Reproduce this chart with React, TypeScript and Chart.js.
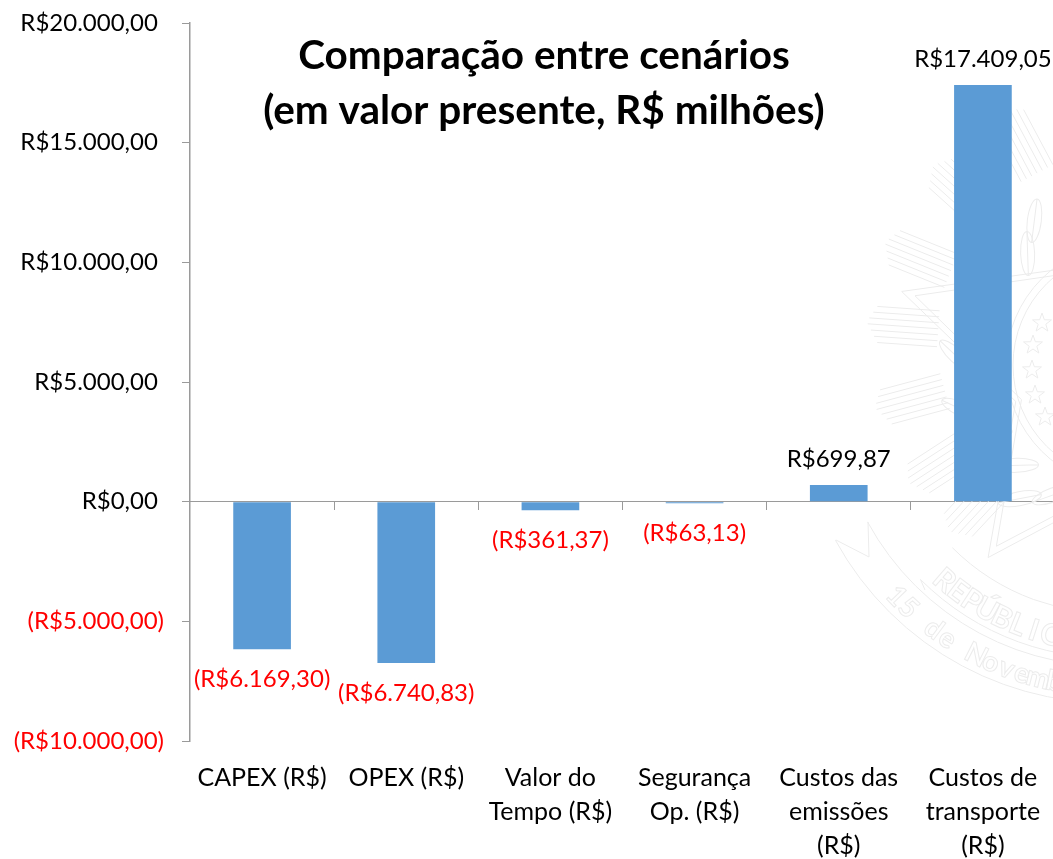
import React, { useEffect, useRef } from "react";
import { Chart, registerables } from "chart.js";

Chart.register(...registerables);

const categories: string[][] = [
  ["CAPEX (R$)"],
  ["OPEX (R$)"],
  ["Valor do", "Tempo (R$)"],
  ["Segurança", "Op. (R$)"],
  ["Custos das", "emissões", "(R$)"],
  ["Custos de", "transporte", "(R$)"],
];
const scenarioValues = [-6169.3, -6740.83, -361.37, -63.13, 699.87, 17409.05];
const titleLines = ["Comparação entre cenários", "(em valor presente, R$ milhões)"];

const FONT = "Lato, 'Noto Sans', sans-serif";
const LABEL_SIZE = 24;
const AXIS_GRAY = "#9a9a9a";
const RED = "#ff0000";
const WATERMARK = "#ececec";

const brl = (v: number) => {
  const abs = Math.abs(v).toLocaleString("pt-BR", { minimumFractionDigits: 2, maximumFractionDigits: 2 });
  return v < 0 ? `(R$${abs})` : `R$${abs}`;
};

const rad = (d: number) => (d * Math.PI) / 180;

function arcText(ctx: CanvasRenderingContext2D, text: string, cx: number, cy: number, r: number, startDeg: number, stepDeg: number) {
  [...text].forEach((ch, i) => {
    const a = rad(startDeg - i * stepDeg);
    ctx.save();
    ctx.translate(cx + r * Math.cos(a), cy + r * Math.sin(a));
    ctx.rotate(a - Math.PI / 2);
    ctx.strokeText(ch, 0, 0);
    ctx.restore();
  });
}

function starPath(ctx: CanvasRenderingContext2D, cx: number, cy: number, R: number, inner: number) {
  ctx.beginPath();
  for (let i = 0; i < 10; i++) {
    const r = i % 2 === 0 ? R : inner;
    const a = rad(-90 + i * 36);
    const x = cx + r * Math.cos(a);
    const y = cy + r * Math.sin(a);
    if (i === 0) ctx.moveTo(x, y);
    else ctx.lineTo(x, y);
  }
  ctx.closePath();
  ctx.stroke();
}

const watermark = {
  id: "watermark",
  beforeDatasetsDraw(chart: any) {
    const { ctx } = chart;
    const cx = 1128;
    const cy = 365;
    ctx.save();
    ctx.strokeStyle = WATERMARK;
    ctx.lineWidth = 1;
    // feather lobes
    [242, 222, 202, 184, 165, 147, 133].forEach((deg) => {
      const a = rad(deg);
      const r0 = 190;
      const r1 = 262;
      for (let off = -20; off <= 20; off += 6) {
        const nx = -Math.sin(a) * off;
        const ny = Math.cos(a) * off;
        const end = r1 - Math.abs(off) * 0.6;
        ctx.beginPath();
        ctx.moveTo(cx + r0 * Math.cos(a) + nx, cy - 25 + r0 * Math.sin(a) + ny);
        ctx.lineTo(cx + end * Math.cos(a) + nx, cy - 25 + end * Math.sin(a) + ny);
        ctx.stroke();
      }
    });
    // wreath leaves
    for (let deg = 120; deg < 250; deg += 9) {
      const a = rad(deg);
      const r = deg % 2 === 0 ? 150 : 172;
      ctx.save();
      ctx.translate(cx + r * Math.cos(a), cy + r * Math.sin(a));
      ctx.rotate(a + 0.7);
      ctx.beginPath();
      ctx.ellipse(0, 0, 22, 7, 0, 0, Math.PI * 2);
      ctx.moveTo(-22, 0);
      ctx.lineTo(22, 0);
      ctx.stroke();
      ctx.restore();
    }
    // star outline and seal
    starPath(ctx, cx, cy, 238, 118);
    starPath(ctx, cx, cy, 224, 112);
    [115, 122].forEach((r) => {
      ctx.beginPath();
      ctx.arc(cx, cy, r, 0, Math.PI * 2);
      ctx.stroke();
    });
    [[1042, 323], [1033, 345], [1032, 370], [1035, 395], [1045, 417]].forEach(([sx, sy]) => starPath(ctx, sx, sy, 10, 4));
    // lower ribbons
    const rx = 1110;
    const ry = 390;
    ctx.beginPath();
    ctx.moveTo(869, 557);
    ctx.lineTo(868, 522);
    ctx.arc(rx, ry, 276, rad(151.4), rad(85), true);
    ctx.moveTo(869, 557);
    ctx.lineTo(836, 540);
    ctx.arc(rx, ry, 313, rad(151.3), rad(85), true);
    ctx.stroke();
    ctx.beginPath();
    ctx.arc(rx, ry, 223, rad(135), rad(85), true);
    ctx.moveTo(925, 590);
    ctx.arc(rx, ry, 268, rad(135), rad(85), true);
    ctx.stroke();
    ctx.font = `bold 28px ${FONT}`;
    ctx.textAlign = "center";
    arcText(ctx, "15 de Novembro", rx, ry, 306, 136, 3.2);
    ctx.font = `bold 30px ${FONT}`;
    arcText(ctx, "REPÚBLICA", rx, ry, 262, 131, 3.9);
    ctx.restore();
  },
};

const overlayText = {
  id: "overlayText",
  afterDatasetsDraw(chart: any) {
    const { ctx } = chart;
    const meta = chart.getDatasetMeta(0);
    ctx.save();
    ctx.font = `${LABEL_SIZE}px ${FONT}`;
    ctx.textAlign = "center";
    ctx.textBaseline = "middle";
    meta.data.forEach((bar: any, i: number) => {
      const v = scenarioValues[i];
      ctx.fillStyle = v < 0 ? RED : "#000000";
      ctx.fillText(brl(v), bar.x, v < 0 ? bar.y + 30 : bar.y - 26);
    });
    ctx.fillStyle = "#000000";
    ctx.font = `bold 40.5px ${FONT}`;
    titleLines.forEach((line, i) => ctx.fillText(line, 544, 56 + i * 55));
    ctx.restore();
  },
};

export default function App() {
  const ref = useRef<HTMLCanvasElement>(null);
  useEffect(() => {
    const chart = new Chart(ref.current!, {
      type: "bar",
      data: {
        labels: categories as any,
        datasets: [
          {
            label: "Comparação entre cenários",
            data: scenarioValues,
            backgroundColor: "#5b9bd5",
            barPercentage: 1,
            categoryPercentage: 0.4,
            xAxisID: "x",
            yAxisID: "y",
          },
        ],
      },
      options: {
        animation: false,
        responsive: false,
        layout: { padding: { top: 23, left: 0, right: 0, bottom: 0 } },
        plugins: { legend: { display: false }, tooltip: { enabled: false } },
        scales: {
          x: {
            type: "category",
            position: "bottom",
            offset: true,
            border: { display: false },
            grid: { display: false, drawTicks: false },
            ticks: {
              autoSkip: false,
              maxRotation: 0,
              minRotation: 0,
              padding: 20,
              color: "#000000",
              font: { family: FONT, size: 25, lineHeight: "34px" },
            },
            afterFit(scale: any) {
              scale.height = 118;
              scale.paddingLeft = 0;
              scale.paddingRight = 0;
            },
          },
          zeroAxis: {
            type: "category",
            axis: "x",
            labels: categories as any,
            position: { y: 0 },
            offset: true,
            border: { display: true, color: AXIS_GRAY, width: 1 },
            grid: { offset: true, drawOnChartArea: false, drawTicks: true, tickLength: 8, color: AXIS_GRAY },
            ticks: { display: false },
          },
          y: {
            type: "linear",
            position: "left",
            min: -10000,
            max: 20000,
            border: { display: true, color: AXIS_GRAY, width: 1.5 },
            grid: { drawOnChartArea: false, drawTicks: true, tickLength: 8, color: AXIS_GRAY },
            ticks: {
              stepSize: 5000,
              padding: 18,
              callback: (v: any) => (v < 0 ? brl(v) : brl(v) + " "),
              color: (c: any) => (c.tick.value < 0 ? RED : "#000000"),
              font: { family: FONT, size: LABEL_SIZE },
            },
            afterFit(scale: any) {
              scale.width = 190;
              scale.paddingTop = 0;
              scale.paddingBottom = 0;
            },
          },
        },
      } as any,
      plugins: [watermark, overlayText],
    });
    return () => chart.destroy();
  }, []);
  return (
    <canvas
      ref={ref}
      width={1055}
      height={859}
      style={{ position: "fixed", left: 0, top: 0, width: 1055, height: 859, background: "#ffffff" }}
    />
  );
}
